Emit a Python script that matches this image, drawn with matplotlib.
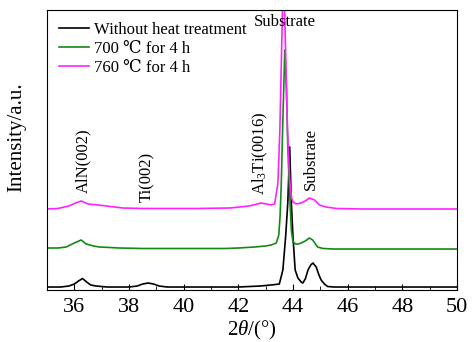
import matplotlib
matplotlib.use('Agg')
from matplotlib import pyplot as plt
from matplotlib.ticker import MultipleLocator

plt.rcParams['font.family'] = ['Liberation Serif', 'DejaVu Serif', 'DejaVu Sans', 'Noto Sans CJK SC']
plt.rcParams['mathtext.fontset'] = 'custom'
plt.rcParams['mathtext.rm'] = 'Liberation Serif'
plt.rcParams['mathtext.it'] = 'Liberation Serif:italic'

# XRD patterns (2theta in degrees, intensity in arbitrary units)
raw_2t = [35.0, 35.5, 35.8, 36.0, 36.15, 36.3, 36.45, 36.6, 36.8, 37.2, 38.0, 38.3, 38.5,
          38.7, 38.9, 39.1, 39.4, 40.0, 41.0, 42.0, 42.8, 43.2, 43.5, 43.63, 43.73, 43.81,
          43.88, 43.94, 44.0, 44.08, 44.18, 44.3, 44.36, 44.45, 44.55, 44.65, 44.73, 44.85,
          44.95, 45.03, 45.15, 45.27, 45.5, 46.0, 47.0, 48.0, 49.0, 50.0]
raw_int = [3, 3, 4, 6, 9, 11.5, 8, 5, 4, 3, 3, 4, 6,
           7, 6, 4, 3, 3, 3, 3, 4, 5, 6, 20, 53, 87,
           143, 87, 53, 20, 12, 8, 7, 11, 20, 25, 27, 23,
           15, 10, 6, 3.5, 3, 3, 3, 3, 3, 3]

t700_2t = [35.0, 35.4, 35.7, 36.0, 36.25, 36.43, 36.7, 36.92, 37.3, 37.65, 38.5, 39.5, 40.5,
           41.5, 42.0, 42.6, 43.0, 43.2, 43.39, 43.48, 43.53, 43.57, 43.63, 43.7, 43.76,
           43.81, 43.87, 43.94, 44.0, 44.1, 44.2, 44.3, 44.45, 44.6, 44.72, 44.9, 45.1, 45.5,
           46.5, 47.5, 48.5, 49.5, 50.0]
t700_int = [42, 42, 43, 47, 50, 46, 44, 43, 42.5, 42, 41.5, 41.5, 41.5,
            41.5, 42, 43, 44, 45, 47, 55, 75, 105, 170, 240, 200,
            143, 100, 60, 48, 46, 46, 47, 49, 52, 50, 43, 41.5, 41,
            41, 41, 41, 41, 41]

t760_2t = [35.0, 35.4, 35.8, 36.05, 36.25, 36.5, 36.85, 37.16, 37.77, 38.5, 39.5, 40.5,
           41.7, 42.4, 42.84, 43.2, 43.33, 43.45, 43.52, 43.6, 43.65, 43.72, 43.8, 43.88,
           43.95, 44.0, 44.12, 44.3, 44.45, 44.6, 44.79, 44.97, 45.2, 45.6, 46.5, 47.5,
           48.5, 49.5, 50.0]
t760_int = [81, 81.5, 84, 87, 89, 86, 85, 84, 82, 81.5, 81.5, 81.5,
            82, 84, 87, 85, 86, 107, 160, 260, 330, 250, 160, 110,
            92, 88, 86, 87, 89, 92, 90, 85, 83, 81.5, 81, 81,
            81, 81, 81]

series = [
    (raw_2t, raw_int, 'black', 'Without heat treatment'),
    (t700_2t, t700_int, '#138a13', '700 \u2103 for 4 h'),
    (t760_2t, t760_int, '#ff22ff', '760 \u2103 for 4 h'),
]

# peak labels: text, 2theta, height of the label's lower end
peak_labels = [
    ('AlN(002)', 36.33, 97),
    ('Ti(002)', 38.67, 88),
    ('Al$_3$Ti(0016)', 42.8, 95),
    ('Substrate', 44.64, 100),
]


def main():
    fig, ax = plt.subplots(1, 1, figsize=(4.75, 3.42), dpi=100)
    fig.subplots_adjust(left=0.099, right=0.962, bottom=0.152, top=0.971)

    for xs, ys, color, label in series:
        ax.plot(xs, ys, color=color, lw=1.2, label=label)

    for text, x, y in peak_labels:
        ax.text(x, y, text, rotation=90, ha='center', va='bottom', fontsize=12)
    ax.text(43.69, 276, 'Substrate', ha='center', va='top', fontsize=12)

    ax.set_xlim(35, 50)
    ax.set_ylim(0, 280)
    ax.xaxis.set_major_locator(MultipleLocator(2))
    ax.xaxis.set_minor_locator(MultipleLocator(1))
    ax.tick_params(axis='x', which='both', direction='in', labelsize=16, pad=6)
    ax.tick_params(axis='x', which='major', length=4)
    ax.tick_params(axis='x', which='minor', length=3)
    ax.set_yticks([])

    ax.set_xlabel('2$\\theta$/(\u00b0)', fontsize=15, labelpad=1)
    ax.set_ylabel('Intensity/a.u.', fontsize=15)
    ax.yaxis.set_label_coords(-0.05, 0.546)

    ax.legend(loc='upper left', frameon=False, fontsize=12, handlelength=1.8,
              handletextpad=0.3, labelspacing=0.2, borderaxespad=0.3,
              bbox_to_anchor=(0.0, 1.0))

    plt.savefig('out.png', dpi=100)


if __name__ == '__main__':
    main()
